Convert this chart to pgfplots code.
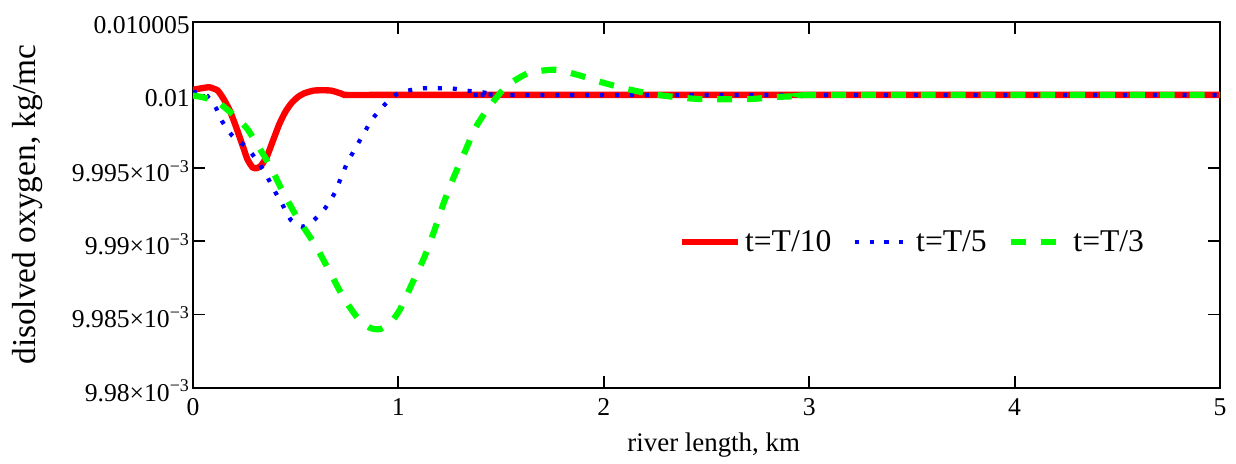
\documentclass[border=0pt]{standalone}
\usepackage{fontspec}
\setmainfont{Liberation Serif}
\usepackage{pgfplots}
\pgfplotsset{compat=1.18}
\definecolor{mcred}{RGB}{255,0,0}
\definecolor{mcblue}{RGB}{0,0,255}
\definecolor{mcgreen}{RGB}{0,255,0}

% values are stored as deviation from 0.01 kg/mc, in units of 1e-6
\begin{document}
\begin{tikzpicture}
\begin{axis}[
    name=ax,
    scale only axis,
    width=20.54cm, height=7.32cm,
    xmin=0, xmax=5, ymin=-20, ymax=5,
    xtick={0,1,2,3,4,5},
    ytick={-20,-15,-10,-5,0,5},
    yticklabels={9.98×10\textsuperscript{−3},9.985×10\textsuperscript{−3},9.99×10\textsuperscript{−3},9.995×10\textsuperscript{−3},0.01,0.010005},
    /pgf/number format/assume math mode=true,
    axis line style={line width=1.1pt},
    every tick/.style={black, line width=1.1pt},
    major tick length=0.24cm,
    minor tick num=0,
    tick label style={font=\fontsize{14.6}{16}\selectfont},
    xticklabel style={yshift=-0.1cm},
    yticklabel style={xshift=0.06cm, yshift=-0.06cm},
    xlabel={river length, km},
    ylabel={disolved oxygen, kg/mc},
    xlabel style={font=\fontsize{15.3}{17}\selectfont, at={(axis description cs:0.507,0)}, anchor=center, yshift=-1.14cm},
    ylabel style={font=\fontsize{19}{21}\selectfont, at={(axis description cs:-0.1616,0.5)}, anchor=center, rotate=0},
    legend style={draw=none, fill=none, at={(axis description cs:0.468,0.398)}, anchor=west,
        font=\fontsize{18}{20}\selectfont, legend columns=3,
        /tikz/every even column/.append style={column sep=0.35cm}},
    legend image code/.code={\draw[#1] (0cm,0cm) -- (1.12cm,0cm);},
]
\addplot[mcred, line width=3.6pt, smooth, tension=0.35] coordinates {
    (0,0.35) (0.04,0.45) (0.08,0.52) (0.12,0.3) (0.15,-0.3) (0.18,-1.1)
    (0.21,-2.2) (0.24,-3.4) (0.265,-4.4) (0.29,-4.95) (0.31,-5.0) (0.33,-4.85)
    (0.36,-4.2) (0.39,-3.1) (0.42,-2.0) (0.45,-1.15) (0.48,-0.55) (0.51,-0.15)
    (0.54,0.1) (0.59,0.3) (0.67,0.3) (0.72,0.1) (0.75,0.0) (1,0) (5,0)
};
\addlegendentry{t=T/10}
\addplot[mcblue, line width=2.4pt, dash pattern=on 2.3pt off 6.2pt, smooth, tension=0.4] coordinates {
    (0,0.15) (0.05,0.2) (0.107,-0.76) (0.14,-1.76) (0.192,-2.8) (0.254,-3.5)
    (0.308,-4.4) (0.357,-5.47) (0.393,-6.45) (0.434,-7.45) (0.477,-8.55)
    (0.53,-9.0) (0.58,-8.66) (0.64,-7.8) (0.69,-6.7) (0.718,-5.74) (0.75,-4.67)
    (0.79,-3.65) (0.832,-2.62) (0.876,-1.6) (0.94,-0.57) (0.99,0.04) (1.044,0.29)
    (1.117,0.45) (1.18,0.45) (1.256,0.45) (1.33,0.29) (1.40,0.2) (1.47,0.04)
    (1.55,0) (5,0)
};
\addlegendentry{t=T/5}
\addplot[mcgreen, line width=3.5pt, dash pattern=on 8.5pt off 8.5pt, smooth, tension=0.4] coordinates {
    (0,-0.05) (0.034,-0.12) (0.116,-0.46) (0.197,-1.37) (0.262,-2.28) (0.319,-3.54)
    (0.377,-4.9) (0.441,-6.72) (0.515,-8.55) (0.597,-10.3) (0.67,-12.2)
    (0.735,-13.9) (0.80,-15.2) (0.86,-15.9) (0.91,-16.0) (0.96,-15.6) (1.01,-14.6)
    (1.067,-12.87) (1.124,-11.16) (1.173,-9.34) (1.22,-7.4) (1.27,-5.6) (1.32,-4.0)
    (1.377,-2.2) (1.443,-0.8) (1.524,0.56) (1.63,1.47) (1.76,1.72) (1.875,1.36)
    (1.98,0.9) (2.10,0.45) (2.216,0.1) (2.33,-0.12) (2.46,-0.28) (2.59,-0.3)
    (2.72,-0.28) (2.83,-0.15) (2.97,-0.07) (3.1,0) (5,0)
};
\addlegendentry{t=T/3}
\end{axis}
\path (ax.south west) ++(-3.86cm,-1.506cm);
\path (ax.north east) ++(0.32cm,0.434cm);
\end{tikzpicture}
\end{document}
